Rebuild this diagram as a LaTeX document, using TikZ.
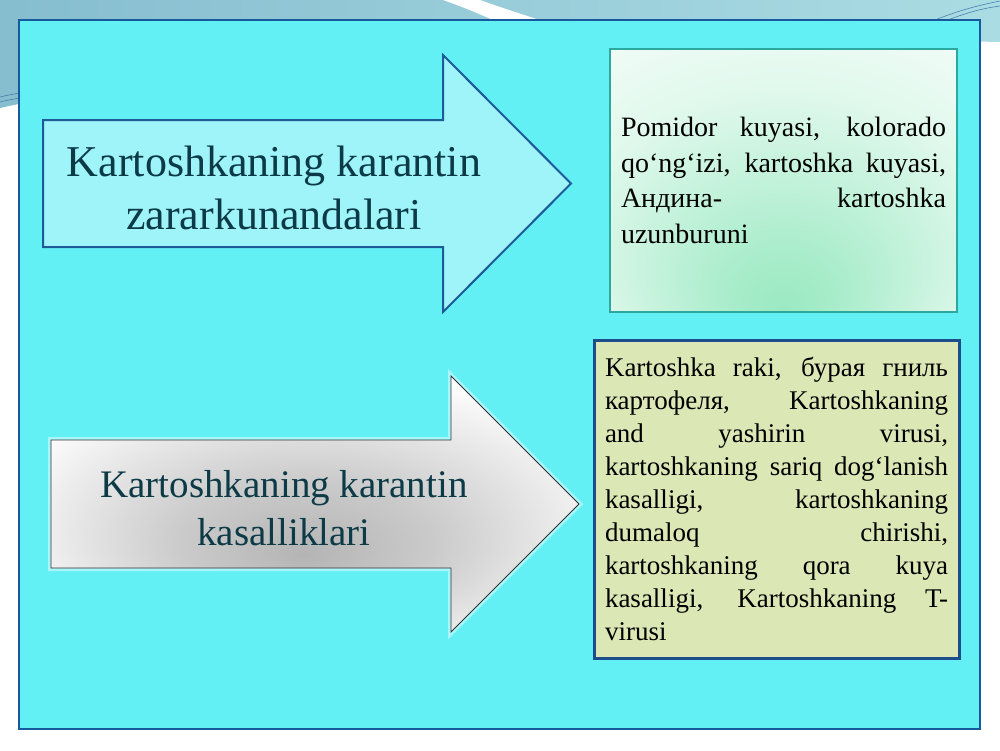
\documentclass[tikz,border=0pt]{standalone}
\usepackage{fontspec}
\setmainfont{Liberation Serif}
\usetikzlibrary{positioning}

\definecolor{bandleft}{HTML}{86BDCF}
\definecolor{bandright}{HTML}{AADCE3}
\definecolor{panelfill}{HTML}{62F0F5}
\definecolor{panelline}{HTML}{16599C}
\definecolor{pestfill}{HTML}{9EF4F8}
\definecolor{pestline}{HTML}{1D5A98}
\definecolor{silvermid}{HTML}{B4B4B4}
\definecolor{titleteal}{HTML}{0C3A47}
\definecolor{mintglow}{HTML}{9AE9C2}
\definecolor{mintline}{HTML}{2CA89E}
\definecolor{olivefill}{HTML}{DCE7B6}
\definecolor{oliveline}{HTML}{1B4E8A}

\pgfdeclareradialshading{silver}{\pgfpoint{-1bp}{-10bp}}{color(0bp)=(silvermid); color(12bp)=(silvermid!70!white); color(31bp)=(white); color(50bp)=(white)}
\pgfdeclareradialshading{mint}{\pgfpoint{0bp}{-25bp}}{color(0bp)=(mintglow); color(8bp)=(mintglow!85!white); color(30bp)=(mintglow!30!white); color(48bp)=(mintglow!6!white); color(60bp)=(white)}

\begin{document}
\begin{tikzpicture}[x=1pt, y=1pt, yscale=-1,
  arrowtext/.style={align=center, text=titleteal, inner sep=0pt},
  listbox/.style={align=justify, inner xsep=11pt, inner ysep=0pt, anchor=center}]
  \useasboundingbox (0,0) rectangle (1000,750);
  % slide background
  \fill[white] (0,0) rectangle (1000,750);
  \path[left color=bandleft, right color=bandright]
    (0,0) -- (1000,0) -- (1000,42) .. controls (650,34) and (250,52) .. (0,108) -- cycle;
  \path[fill=white] (443,0) -- (480,0) .. controls (505,9) and (525,15) .. (545,22)
    -- (497,22) .. controls (478,13) and (460,6) .. cycle;
  \path[draw=pestline!70!bandright, line width=0.6pt]
    (0,97) .. controls (8,95) and (14,94) .. (20,93)
    (0,102) .. controls (8,100) and (14,99) .. (20,98)
    (935,20) .. controls (960,10) and (980,5) .. (1000,1)
    (948,20) .. controls (968,12) and (985,8) .. (1000,6);

  % main panel
  \path[draw=panelline, fill=panelfill, line width=2.5pt] (19,20) rectangle (980,729);

  % upper arrow
  \path[draw=pestline, fill=pestfill, line width=2pt, line join=miter]
    (43,120) -- (443,120) -- (443,55) -- (571,183.5) -- (443,312) -- (443,247) -- (43,247) -- cycle;
  \node[arrowtext, font=\fontsize{44}{53}\selectfont] (pests) at (274,188)
    {Kartoshkaning karantin\\zararkunandalari};

  % lower arrow
  \path[draw=white, opacity=0.45, line width=6pt, line join=miter]
    (51,440) -- (451,440) -- (451,376) -- (579,504) -- (451,632) -- (451,568) -- (51,568) -- cycle;
  \path[shading=silver, draw=black!80, line width=0.9pt, line join=miter]
    (51,440) -- (451,440) -- (451,376) -- (579,504) -- (451,632) -- (451,568) -- (51,568) -- cycle;
  \node[arrowtext, font=\fontsize{39}{48}\selectfont] (diseases) at (284,508)
    {Kartoshkaning karantin\\kasalliklari};

  % right boxes
  \node[listbox, draw=mintline, line width=1.2pt, shading=mint,
        text width=325pt, minimum width=347pt, minimum height=263pt,
        font=\fontsize{28}{35.7}\selectfont] (pestlist) at (783.5,180.5)
    {Pomidor kuyasi, kolorado\linebreak qo‘ng‘izi, kartoshka kuyasi,\linebreak
     Андина- kartoshka\linebreak uzunburuni};
  \node[listbox, draw=oliveline, line width=3pt, fill=olivefill,
        text width=343pt, minimum width=365pt, minimum height=318pt,
        font=\fontsize{27}{33}\selectfont] (diseaselist) at (776.5,499)
    {Kartoshka raki, бурая гниль\linebreak картофеля, Kartoshkaning\linebreak
     and yashirin virusi,\linebreak kartoshkaning sariq dog‘lanish\linebreak
     kasalligi, kartoshkaning\linebreak dumaloq chirishi,\linebreak
     kartoshkaning qora kuya\linebreak kasalligi, Kartoshkaning T-\linebreak virusi};
\end{tikzpicture}
\end{document}
